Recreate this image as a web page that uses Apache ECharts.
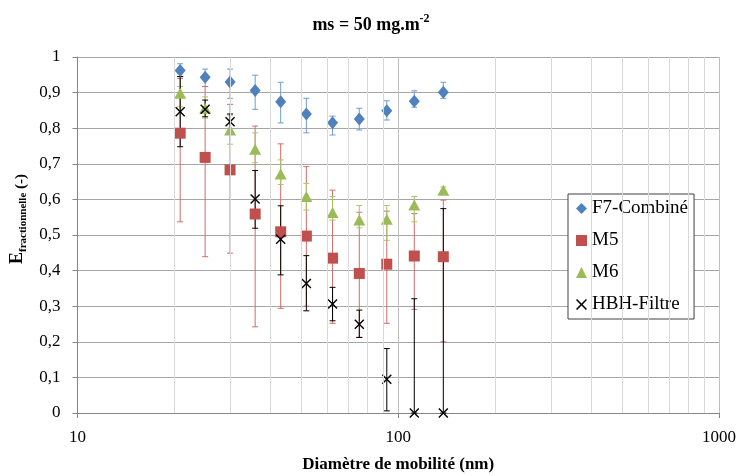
<!DOCTYPE html>
<html>
<head>
    <meta charset="utf-8">
    <title>ms = 50 mg.m-2</title>
    <script src="https://cdn.jsdelivr.net/npm/echarts@6/dist/echarts.min.js"></script>
</head>
<style>
    html, body { margin: 0; padding: 0; background: #fff; }
    #chart { width: 742px; height: 476px; }
</style>
<body>
<div id="chart"></div>
<script>
    // diamètres de mobilité (nm)
    var diam = [20.9, 25.0, 29.9, 35.8, 43.0, 51.7, 62.4, 75.6, 92.1, 112.2, 138.2];

    var f7 = [0.962, 0.943, 0.930, 0.906, 0.874, 0.840, 0.815, 0.826, 0.849, 0.876, 0.901];
    var f7Low = [0.945, 0.917, 0.884, 0.853, 0.815, 0.787, 0.781, 0.795, 0.823, 0.859, 0.884];
    var f7High = [0.981, 0.966, 0.966, 0.949, 0.929, 0.884, 0.834, 0.856, 0.877, 0.905, 0.929];

    var m5 = [0.786, 0.718, 0.683, 0.559, 0.509, 0.497, 0.435, 0.392, 0.418, 0.441, 0.439];
    var m5Low = [0.537, 0.439, 0.449, 0.242, 0.294, 0.300, 0.252, 0.213, 0.252, 0.291, 0.200];
    var m5High = [0.940, 0.917, 0.867, 0.806, 0.756, 0.692, 0.626, 0.564, 0.567, 0.560, 0.598];

    var m6 = [0.898, 0.856, 0.795, 0.741, 0.671, 0.608, 0.563, 0.542, 0.544, 0.584, 0.626];
    var m6Low = [0.860, 0.828, 0.755, 0.703, 0.642, 0.570, 0.542, 0.520, 0.485, 0.537, 0.615];
    var m6High = [0.917, 0.888, 0.837, 0.787, 0.711, 0.645, 0.608, 0.583, 0.583, 0.608, 0.635];

    var hbh = [0.846, 0.853, 0.818, 0.601, 0.488, 0.364, 0.306, 0.249, 0.095, 0, 0];
    var hbhLow = [0.748, 0.832, 0.790, 0.519, 0.388, 0.287, 0.259, 0.212, 0.006, 0, 0];
    var hbhHigh = [0.945, 0.879, 0.840, 0.681, 0.582, 0.442, 0.353, 0.289, 0.181, 0.321, 0.574];

    // lignes de grille secondaires (échelle log)
    var minorX = [20, 30, 40, 50, 60, 70, 80, 90, 200, 300, 400, 500, 600, 700, 800, 900];

    var serif = 'Liberation Serif';
    var xPath = 'path://M0,1L1,0L5,4L9,0L10,1L6,5L10,9L9,10L5,6L1,10L0,9L4,5Z';

    function pts(y) {
        return diam.map(function (d, i) { return [d, y[i]]; });
    }

    // barres d'erreur
    function errBars(name, low, high, color) {
        return {
            type: 'custom',
            name: name + '-err',
            silent: true,
            data: diam.map(function (d, i) { return [d, low[i], high[i]]; }),
            encode: {x: 0, y: [1, 2]},
            renderItem: function (params, api) {
                var x = api.value(0);
                var lo = api.coord([x, api.value(1)]);
                var hi = api.coord([x, api.value(2)]);
                var st = {stroke: color, lineWidth: 1};
                return {
                    type: 'group',
                    children: [
                        {type: 'line', shape: {x1: lo[0], y1: lo[1], x2: hi[0], y2: hi[1]}, style: st},
                        {type: 'line', shape: {x1: hi[0] - 3, y1: hi[1], x2: hi[0] + 3, y2: hi[1]}, style: st},
                        {type: 'line', shape: {x1: lo[0] - 3, y1: lo[1], x2: lo[0] + 3, y2: lo[1]}, style: st}
                    ]
                };
            }
        };
    }

    var myChart = echarts.init(document.getElementById('chart'));
    var option = {
        animation: false,
        title: {
            text: '{a|ms = 50 mg.m}{s|-2}',
            left: 'center',
            top: 8,
            textStyle: {
                rich: {
                    a: {fontFamily: serif, fontWeight: 'bold', fontSize: 18, color: '#000', lineHeight: 24},
                    s: {fontFamily: serif, fontWeight: 'bold', fontSize: 12, color: '#000', verticalAlign: 'top', lineHeight: 24, padding: [0, 0, 8, 0]}
                }
            }
        },
        grid: {left: 77.5, right: 23, top: 57, bottom: 63, outerBoundsMode: 'none'},
        legend: {
            orient: 'vertical',
            left: 568,
            top: 194,
            padding: [5, 6, 5, 8],
            itemGap: 13,
            itemWidth: 11,
            itemHeight: 11,
            itemTextGap: 4,
            borderColor: '#404040',
            borderWidth: 1,
            backgroundColor: '#fff',
            textStyle: {fontFamily: serif, fontSize: 19, color: '#000', lineHeight: 18},
            data: ['F7-Combiné', 'M5', 'M6', 'HBH-Filtre']
        },
        xAxis: {
            type: 'log',
            logBase: 10,
            min: 10,
            max: 1000,
            name: 'Diamètre de mobilité (nm)',
            nameLocation: 'middle',
            nameGap: 43,
            nameTextStyle: {fontFamily: serif, fontWeight: 'bold', fontSize: 17, color: '#000'},
            axisLine: {lineStyle: {color: '#868686'}},
            axisTick: {show: true, length: 5, lineStyle: {color: '#868686'}},
            axisLabel: {
                fontFamily: serif, fontSize: 17, color: '#000', margin: 16,
                formatter: function (v) { return String(Math.round(v)); }
            },
            splitLine: {show: true, lineStyle: {color: '#bfbfbf'}}
        },
        yAxis: {
            type: 'value',
            min: 0,
            max: 1,
            interval: 0.1,
            name: '{e|E}{s|fractionnelle}{p| (-)}',
            nameLocation: 'middle',
            nameRotate: 90,
            nameGap: 42,
            nameTextStyle: {
                padding: [0, 0, 0, 32],
                rich: {
                    e: {fontFamily: serif, fontWeight: 'bold', fontSize: 18, color: '#000', lineHeight: 22, verticalAlign: 'middle'},
                    s: {fontFamily: serif, fontWeight: 'bold', fontSize: 11, color: '#000', lineHeight: 22, verticalAlign: 'bottom'},
                    p: {fontFamily: serif, fontWeight: 'bold', fontSize: 15, color: '#000', lineHeight: 22, verticalAlign: 'bottom'}
                }
            },
            axisLine: {show: true, lineStyle: {color: '#868686'}},
            axisTick: {show: true, length: 5, lineStyle: {color: '#868686'}},
            axisLabel: {
                fontFamily: serif, fontSize: 17, color: '#000', margin: 17,
                formatter: function (v) {
                    var s = Math.round(v * 10) / 10;
                    return String(s).replace('.', ',');
                }
            },
            splitLine: {show: true, lineStyle: {color: '#a6a6a6'}}
        },
        series: [
            {
                type: 'scatter',
                name: 'grille',
                data: [],
                silent: true,
                markLine: {
                    silent: true,
                    symbol: ['none', 'none'],
                    label: {show: false},
                    lineStyle: {color: '#d9d9d9', type: 'solid', width: 1},
                    data: minorX.map(function (v) { return {xAxis: v}; })
                }
            },
            errBars('F7-Combiné', f7Low, f7High, '#6f9bd0'),
            {
                type: 'scatter', name: 'F7-Combiné', data: pts(f7),
                symbol: 'diamond', symbolSize: [11, 13],
                itemStyle: {color: '#4F81BD', opacity: 1}
            },
            errBars('M5', m5Low, m5High, '#d26c69'),
            {
                type: 'scatter', name: 'M5', data: pts(m5),
                symbol: 'rect', symbolSize: 11,
                itemStyle: {color: '#C0504D', opacity: 1}
            },
            errBars('M6', m6Low, m6High, '#a9c46e'),
            {
                type: 'scatter', name: 'M6', data: pts(m6),
                symbol: 'triangle', symbolSize: [12, 11],
                itemStyle: {color: '#9BBB59', opacity: 1}
            },
            errBars('HBH-Filtre', hbhLow, hbhHigh, '#000'),
            {
                type: 'scatter', name: 'HBH-Filtre', data: pts(hbh),
                symbol: xPath, symbolSize: 10,
                itemStyle: {color: '#000', opacity: 1}
            }
        ]
    };
    myChart.setOption(option);
</script>
</body>
</html>
